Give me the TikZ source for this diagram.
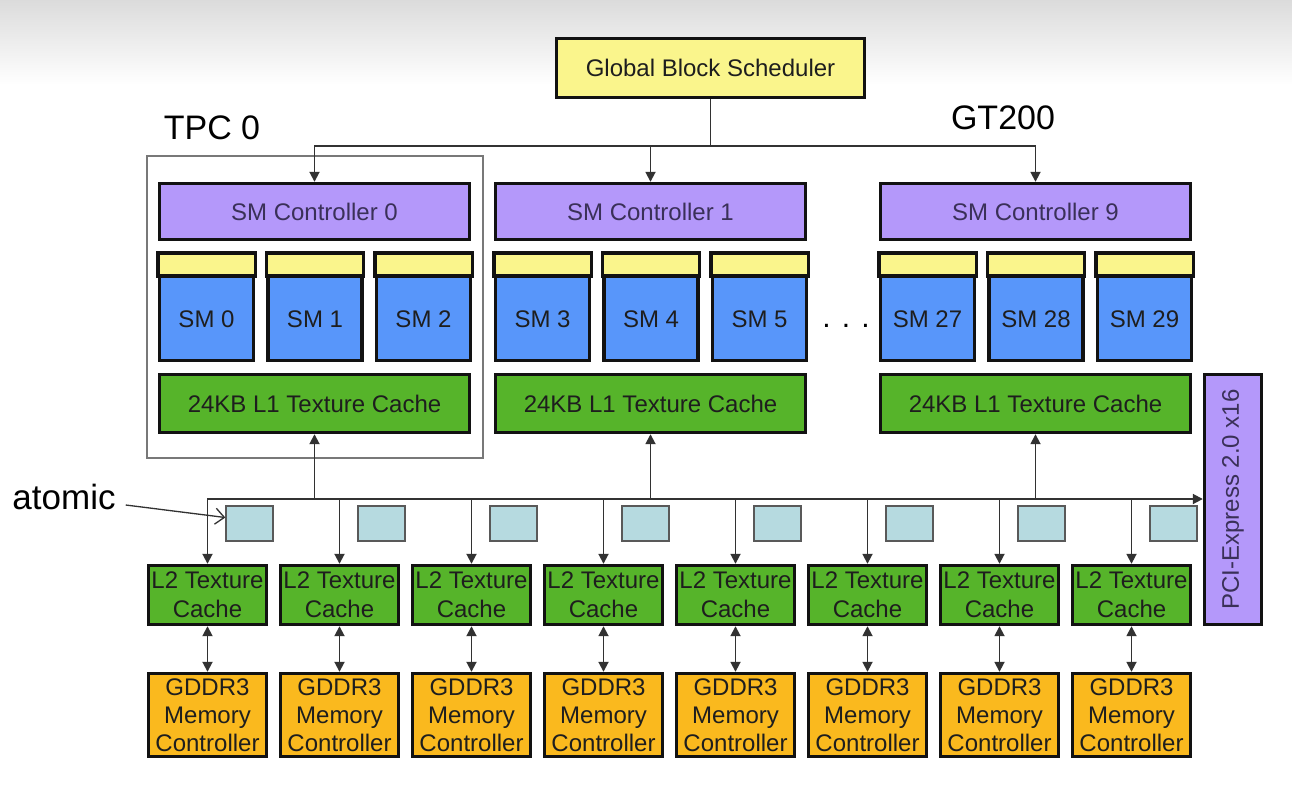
\documentclass[tikz,border=0pt]{standalone}
\usepackage{fontspec}
\setmainfont{Liberation Sans}
\usetikzlibrary{arrows.meta,calc}
\definecolor{bord}{RGB}{18,18,18}
\definecolor{cline}{RGB}{50,50,50}
\definecolor{schedc}{RGB}{250,245,140}
\definecolor{ctrlc}{RGB}{180,152,250}
\definecolor{smc}{RGB}{88,150,250}
\definecolor{stripc}{RGB}{250,245,140}
\definecolor{greenc}{RGB}{86,180,42}
\definecolor{atomc}{RGB}{182,218,224}
\definecolor{orangec}{RGB}{250,185,30}
\definecolor{txt}{RGB}{30,30,30}
\definecolor{txtp}{RGB}{58,48,88}
\definecolor{framec}{RGB}{120,120,120}
\newcommand{\fsz}{\fontsize{24}{29}\selectfont}
\newcommand{\fbig}{\fontsize{34}{38}\selectfont}
\tikzset{
  blk/.style={draw=bord, line width=3.4pt, inner sep=0pt, align=center, text=txt, font=\fsz},
  lab/.style={inner sep=0pt, align=center, text=txt, font=\fsz},
  arr/.style={draw=cline, line width=1.8pt, -{Triangle[length=10pt,width=10pt]}},
  darr/.style={draw=cline, line width=1.8pt, {Triangle[length=10pt,width=10pt]}-{Triangle[length=10pt,width=10pt]}},
  ln/.style={draw=cline, line width=1.8pt},
  big/.style={inner sep=0pt, font=\fbig, text=black}
}
\begin{document}
\begin{tikzpicture}[x=1pt,y=-1pt]
\useasboundingbox (0,0) rectangle (1292,796);
\fill[white] (0,0) rectangle (1292,796);
\shade[top color=black!14, bottom color=white] (0,0) rectangle (1292,85);

% scheduler
\node[blk, fill=schedc, minimum width=308, minimum height=59] (sched) at (710.5,68) {Global Block Scheduler};
\coordinate (j) at (710.5,146);

% TPC frame and labels
\node[draw=framec, line width=1.6pt, minimum width=336, minimum height=302, inner sep=0pt] (tpcframe) at (315,307) {};
\node[big] (tpclab) at (212,128) {TPC 0};
\node[big] (gtlab) at (1003,118) {GT200};

% TPC blocks
\foreach \t/\L/\f in {0/158/0, 1/494/3, 9/879/27}{
  \pgfmathsetmacro\cx{\L+156.5}
  \node[blk, fill=ctrlc, text=txtp, minimum width=310, minimum height=56] (ctl\t) at (\cx,211.5) {SM Controller \t};
  \node[blk, fill=greenc, minimum width=310, minimum height=58] (lone\t) at (\cx,403.5) {24KB L1 Texture Cache};
  \foreach \i in {0,1,2}{
    \pgfmathsetmacro\sx{\L+108.5*\i+48.5}
    \pgfmathtruncatemacro\n{\f+\i}
    \node[blk, fill=smc, minimum width=94, minimum height=106] (sm\n) at (\sx,307.5) {};
    \draw[draw=bord, line width=3.4pt, fill=stripc] (sm\n.north west) rectangle ($(sm\n.north east)+(0,23)$);
    \node[lab] (smt\n) at ($(sm\n.center)+(0,12)$) {SM \n};
  }
}

% scheduler connectors
\draw[ln] (sched.south) -- (j);
\draw[arr] (j) -| (ctl0.north);
\draw[arr] (j) -| (ctl1.north);
\draw[arr] (j) -| (ctl9.north);

% dots
\node[inner sep=0pt, font=\fontsize{30}{30}\selectfont, text=black] (dots) at (846,326) {. . .};

% PCI express
\node[blk, fill=ctrlc, minimum width=57, minimum height=250] (pci) at (1233,499.5) {};
\node[lab, text=txtp, rotate=90] (pcit) at (pci.center) {PCI-Express 2.0 x16};

% bus
\coordinate (b0) at (207,499);
\draw[arr] (b0) -- (b0 -| pci.west);
\draw[arr] (lone0.south |- b0) -- (lone0.south);
\draw[arr] (lone1.south |- b0) -- (lone1.south);
\draw[arr] (lone9.south |- b0) -- (lone9.south);

% memory partitions
\foreach \k in {0,...,7}{
  \pgfmathsetmacro\mx{207.5+132*\k}
  \pgfmathsetmacro\ax{249.5+132*\k}
  \node[draw=black!65, line width=1.4pt, fill=atomc, minimum width=47, minimum height=35, inner sep=0pt] (sq\k) at (\ax,523.5) {};
  \node[blk, fill=greenc, minimum width=118, minimum height=59] (ltwo\k) at (\mx,595) {L2 Texture\\Cache};
  \node[blk, fill=orangec, minimum width=118, minimum height=83, font=\fontsize{24}{28}\selectfont] (mem\k) at (\mx,715) {GDDR3\\Memory\\Controller};
  \draw[arr] (ltwo\k.north |- b0) -- (ltwo\k.north);
  \draw[darr] (ltwo\k.south) -- (mem\k.north);
}

% atomic label
\node[big, font=\fontsize{35}{38}\selectfont] (atom) at (64,497) {atomic};
\draw[draw=cline, line width=1.3pt, -{Straight Barb[length=9pt,width=16pt]}] ([xshift=10pt,yshift=-8pt]atom.east) -- ([yshift=6pt]sq0.west);
\end{tikzpicture}
\end{document}
